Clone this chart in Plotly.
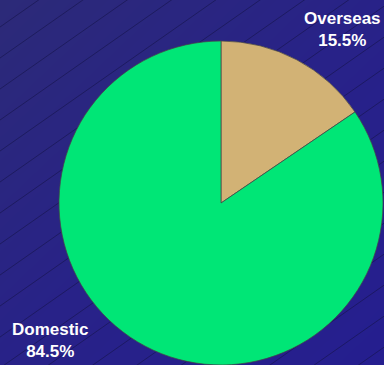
import plotly.graph_objects as go

# ---- data ----
labels = ["Overseas", "Domestic"]
values = [15.5, 84.5]
colors = ["#D2B275", "#00E676"]

W, H = 384, 365

fig = go.Figure()

# background gradient (decorative)
fig.add_trace(go.Heatmap(
    x=[0, W], y=[0, H], z=[[0, 1], [1, 2]],
    colorscale=[[0, "rgb(44,42,120)"], [0.5, "rgb(40,34,136)"], [1, "rgb(37,30,143)"]],
    zsmooth="best", showscale=False, hoverinfo="skip",
))

# decorative diagonal hatch lines
lx, ly = [], []
slope = 0.7
for k in range(-2, 40):
    c = 27 + 31 * k
    lx += [0, W, None]
    ly += [c, c - slope * W, None]
fig.add_trace(go.Scatter(x=lx, y=ly, mode="lines",
                         line=dict(color="rgba(22,20,75,0.85)", width=0.7),
                         hoverinfo="skip", showlegend=False))

cx, cy, r = 221, 203, 162
fig.add_trace(go.Pie(
    labels=labels, values=values, sort=False, direction="clockwise", rotation=0,
    marker=dict(colors=colors, line=dict(color="rgba(70,70,70,0.9)", width=0.8)),
    textinfo="none", hoverinfo="skip", showlegend=False,
    domain=dict(x=[(cx - r) / W, (cx + r) / W], y=[(H - cy - r) / H, (H - cy + r) / H]),
))

label_pos = {"Overseas": (342, 29.5), "Domestic": (50.5, 340.5)}
anns = []
for lab, val in zip(labels, values):
    px, py = label_pos[lab]
    anns.append(dict(
        x=px / W, y=1 - py / H, xref="paper", yref="paper",
        text=f"<b>{lab}</b><br><b>{val:.1f}%</b>", showarrow=False,
        xanchor="center", yanchor="middle",
        font=dict(family="Liberation Sans, Arial, sans-serif", size=17, color="white"),
    ))

fig.update_layout(
    width=W, height=H, margin=dict(l=0, r=0, t=0, b=0),
    paper_bgcolor="rgb(41,36,132)", plot_bgcolor="rgb(41,36,132)",
    xaxis=dict(range=[0, W], visible=False, fixedrange=True),
    yaxis=dict(range=[H, 0], visible=False, fixedrange=True),
    annotations=anns,
)

fig.write_html("out.html")
